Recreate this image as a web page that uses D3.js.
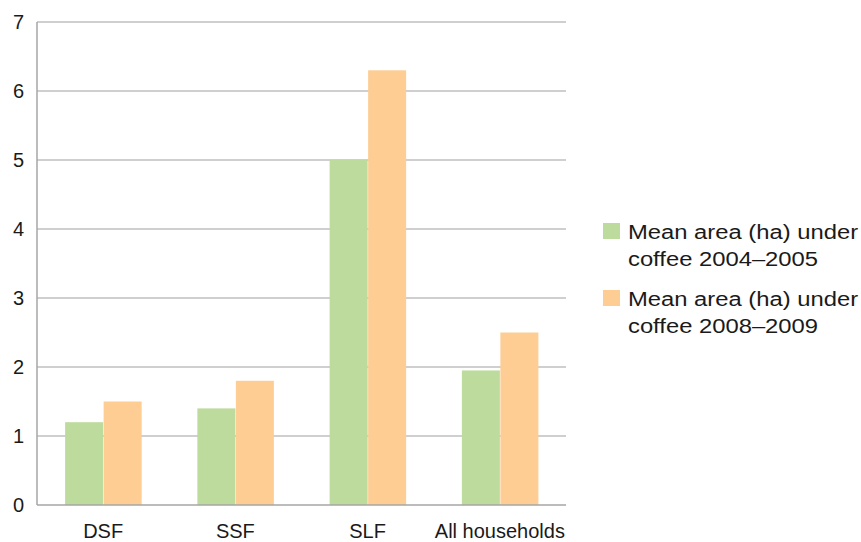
<!DOCTYPE html>
<html>
<head>
<meta charset="utf-8">
<script src="https://cdn.jsdelivr.net/npm/d3@7"></script>
<style>
  body { margin: 0; background: #fff; }
  text { font-family: "Liberation Sans", Arial, sans-serif; fill: #1a1a1a; }
</style>
</head>
<body>
<div id="chart"></div>
<script>
// data
const categories = ['DSF', 'SSF', 'SLF', 'All households'];
const series = ['Mean area (ha) under coffee 2004\u20132005', 'Mean area (ha) under coffee 2008\u20132009'];
const legendLines = [
    ['Mean area (ha) under', 'coffee 2004\u20132005'],
    ['Mean area (ha) under', 'coffee 2008\u20132009']
];
const values0405 = [1.2, 1.4, 5.0, 1.95];
const values0809 = [1.5, 1.8, 6.3, 2.5];
const yTicks = [0, 1, 2, 3, 4, 5, 6, 7];
const colors = ['#bcdb9c', '#fdcd93'];

const margin = {top: 22, right: 295, bottom: 37, left: 37},
      width = 861 - margin.left - margin.right,
      height = 542 - margin.top - margin.bottom;

const svg = d3.select('#chart').append('svg')
    .attr('width', 861)
    .attr('height', 542);

const g = svg.append('g')
    .attr('transform', `translate(${margin.left},${margin.top})`);

const x = d3.scaleBand().domain(categories).range([0, width]).paddingInner(0).paddingOuter(0);
const y = d3.scaleLinear().domain([0, 7]).range([height, 0]);
const barW = 38;

// gridlines
g.selectAll('.grid')
    .data(yTicks.filter(t => t > 0))
    .enter().append('line')
    .attr('x1', 0).attr('x2', width)
    .attr('y1', d => y(d)).attr('y2', d => y(d))
    .attr('stroke', '#bfbfbf').attr('stroke-width', 1.3);

// bars
const rows = categories.map((c, i) => ({cat: c, vals: [values0405[i], values0809[i]]}));
const grp = g.selectAll('.grp').data(rows).enter().append('g')
    .attr('transform', d => `translate(${x(d.cat) + x.bandwidth() / 2},0)`);
grp.selectAll('rect')
    .data(d => d.vals.map((v, k) => ({v, k})))
    .enter().append('rect')
    .attr('x', d => d.k === 0 ? -barW : 0.5)
    .attr('width', barW)
    .attr('y', d => y(d.v))
    .attr('height', d => height - y(d.v))
    .attr('fill', d => colors[d.k]);

// axes lines
g.append('line').attr('x1', 0).attr('x2', 0).attr('y1', 0).attr('y2', height)
    .attr('stroke', '#a6a6a6').attr('stroke-width', 1.5);
g.append('line').attr('x1', 0).attr('x2', width).attr('y1', height).attr('y2', height)
    .attr('stroke', '#a6a6a6').attr('stroke-width', 1.5);

// y tick labels
g.selectAll('.ytick').data(yTicks).enter().append('text')
    .attr('x', -13)
    .attr('y', d => y(d))
    .attr('dy', '0.36em')
    .attr('text-anchor', 'end')
    .style('font-size', '20px')
    .text(d => d);

// x labels
g.selectAll('.xlab').data(categories).enter().append('text')
    .attr('x', d => x(d) + x.bandwidth() / 2)
    .attr('y', height + 33)
    .attr('text-anchor', 'middle')
    .style('font-size', '20px')
    .text(d => d);

// legend (text in the picture is a little wider than Arial)
const legend = svg.append('g').attr('transform', 'translate(603,223)');
const item = legend.selectAll('.item').data(series).enter().append('g')
    .attr('transform', (d, i) => `translate(0,${i * 67})`);
item.append('rect').attr('width', 17).attr('height', 16).attr('fill', (d, i) => colors[i]);
item.each(function(d, i) {
    d3.select(this).selectAll('text').data(legendLines[i]).enter().append('text')
        .attr('transform', (t, j) => `translate(25,${9 + j * 27}) scale(1.19,1)`)
        .attr('dy', '0.36em')
        .style('font-size', '20px')
        .text(t => t);
});
</script>
</body>
</html>
